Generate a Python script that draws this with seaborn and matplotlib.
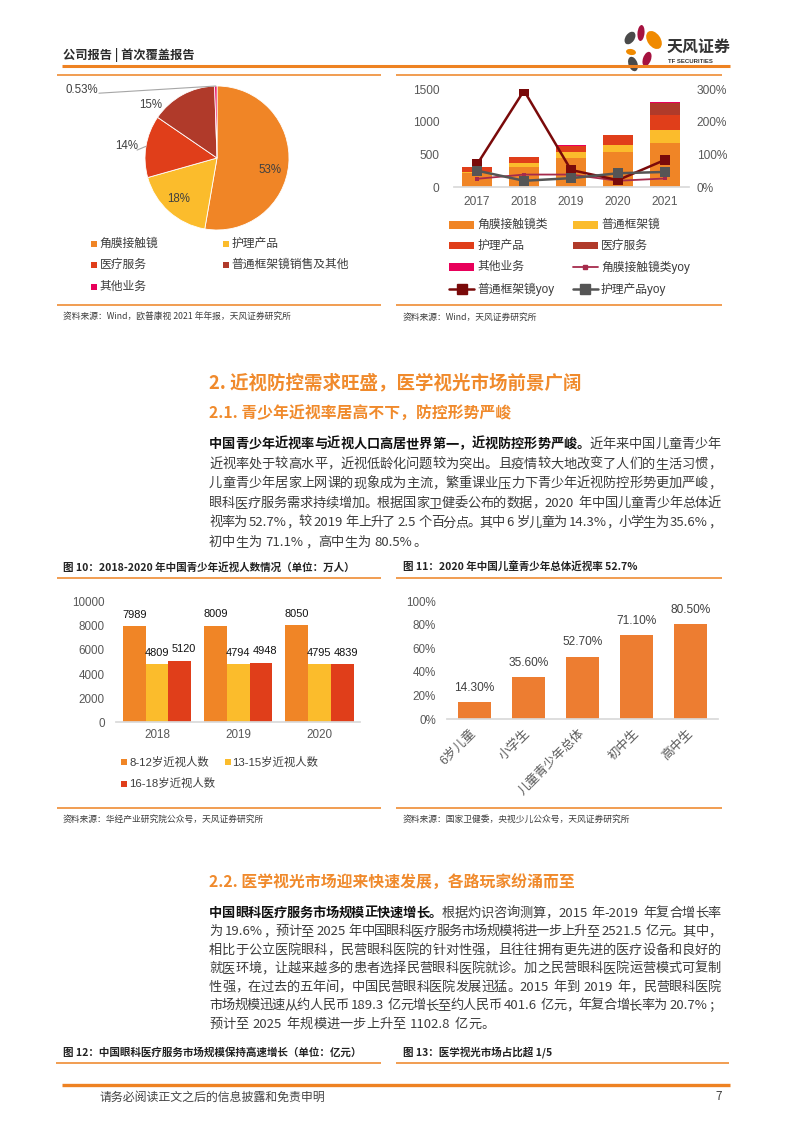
import re
import matplotlib
matplotlib.use('Agg')
import matplotlib.pyplot as plt
import seaborn as sns
import pandas as pd
import numpy as np
from matplotlib.patches import Rectangle, Ellipse
from matplotlib.ticker import FuncFormatter

sns.set_theme(style='white')
plt.rcParams['font.family'] = ['Liberation Sans', 'Noto Sans CJK SC', 'DejaVu Sans']
CJK = ['Noto Sans CJK SC', 'DejaVu Sans']

ORANGE = '#F08526'
YELLOW = '#FBBC2C'
RED = '#E03E1A'
DARKRED = '#B03A2A'
PINK = '#E8005A'
BAR11 = '#ED7D31'
RULE = '#EE8222'
TXT = '#3C3C3C'
TICK = '#595959'

# ---------------- 数据 ----------------
# 左上：收入构成饼图
pie_labels = ['角膜接触镜', '护理产品', '医疗服务', '普通框架镜销售及其他', '其他业务']
pie_values = [53, 18, 14, 15, 0.53]
pie_texts = ['53%', '18%', '14%', '15%', '0.53%']
pie_colors = [ORANGE, YELLOW, RED, DARKRED, PINK]

# 右上：分业务收入（堆叠柱）与增速
rev_years = ['2017', '2018', '2019', '2020', '2021']
rev_contact = [220, 316, 444, 536, 684]
rev_frame = [16, 51, 92, 112, 194]
rev_care = [70, 92, 102, 153, 230]
rev_medical = [0, 0, 0, 0, 184]
rev_other = [2, 2, 3, 3, 6]
rev_names = ['角膜接触镜类', '普通框架镜', '护理产品', '医疗服务', '其他业务']
yoy_contact = [0.26, 0.39, 0.39, 0.20, 0.27]
yoy_frame = [0.70, 2.96, 0.53, 0.22, 0.84]
yoy_care = [0.51, 0.20, 0.28, 0.43, 0.47]

# 图10：青少年近视人数（万人）
myopia_years = ['2018', '2019', '2020']
myopia_groups = ['8-12岁近视人数', '13-15岁近视人数', '16-18岁近视人数']
myopia_8_12 = [7989, 8009, 8050]
myopia_13_15 = [4809, 4794, 4795]
myopia_16_18 = [5120, 4948, 4839]

# 图11：2020年近视率（%）
rate_groups = ['6岁儿童', '小学生', '儿童青少年总体', '初中生', '高中生']
rate_values = [14.3, 35.6, 52.7, 71.1, 80.5]

# ---------------- 页面 ----------------
W, H = 793, 1122
fig = plt.figure(figsize=(W / 100, H / 100), dpi=100, facecolor='white')
page = fig.add_axes([0, 0, 1, 1])
page.set_xlim(0, W)
page.set_ylim(H, 0)
page.axis('off')
renderer = fig.canvas.get_renderer()


def px_axes(left, top, right, bottom):
    ax = fig.add_axes([left / W, 1 - bottom / H, (right - left) / W, (bottom - top) / H])
    ax.patch.set_visible(False)
    return ax


def hline(x0, x1, y, lw=1.1):
    page.plot([x0, x1], [y, y], color=RULE, lw=lw, solid_capstyle='butt')


def ptext(x, y, s, size, bold=False, color=TXT, ha='left'):
    page.text(x, y, s, fontsize=size, family=CJK, fontweight='bold' if bold else 'normal',
              color=color, va='center', ha=ha)


TOKEN = re.compile(r'[0-9A-Za-z.%\-]+| |.')


def para_line(y, parts, x0=209, x1=721, justify=True, size=9.5):
    # 两端对齐：逐字放置，多余空白平均分到字间
    em = size * 100 / 72
    items = [(tok, bold) for text, bold in parts for tok in TOKEN.findall(text)]
    arts, widths = [], []
    for tok, bold in items:
        if tok == ' ':
            arts.append(None)
            widths.append(em * 0.3)
            continue
        t = page.text(0, y + em * 0.38, tok, fontsize=size, family=CJK,
                      fontweight='bold' if bold else 'normal',
                      color='#111111' if bold else TXT, va='baseline', ha='left')
        arts.append(t)
        if ord(tok[0]) > 0x2E80:
            widths.append(em)
        else:
            widths.append(t.get_window_extent(renderer).width + 1)
    gap = (x1 - x0 - sum(widths)) / (len(items) - 1) if justify else 0
    x = x0
    for a, w in zip(arts, widths):
        if a is not None:
            a.set_x(x)
        x += w + gap


def legend_box(x, y, w, h, color, tx, label, size=8.5):
    page.add_patch(Rectangle((x, y - h / 2), w, h, color=color, lw=0))
    page.text(tx, y, label, fontsize=size, color=TXT, va='center', ha='left')


def legend_line(x0, x1, y, color, lw, ms, tx, label, size=8.5):
    page.plot([x0, x1], [y, y], color=color, lw=lw)
    page.plot([(x0 + x1) / 2], [y], marker='s', ms=ms, color=color)
    page.text(tx, y, label, fontsize=size, color=TXT, va='center', ha='left')


# 页眉
ptext(63, 55, '公司报告 | 首次覆盖报告', 8.8, bold=True, color='#2B2B2B')
hline(62, 730, 66, lw=2.2)
for (cx, cy, w, h, ang, col) in [(630, 38, 9, 14, 35, '#4A4A4A'), (641, 33, 7, 16, 5, '#A5123F'),
                                  (654, 40, 13, 20, -35, '#F08A00'), (631, 52, 10, 6, 10, '#F08A00'),
                                  (647, 59, 8, 15, 20, '#A5123F'), (633, 64, 9, 15, -20, '#4A4A4A')]:
    page.add_patch(Ellipse((cx, cy), w, h, angle=ang, color=col, lw=0))
page.text(699, 47, '天风证券', fontsize=11.5, family=CJK, fontweight='bold', color='#333333',
          va='center', ha='center')
page.text(690, 61, 'TF SECURITIES', fontsize=4.3, fontweight='bold', color='#333333',
          va='center', ha='center')

# 顶部两图的框线
hline(57, 381, 75)
hline(396, 722, 75)
hline(57, 381, 305)
hline(396, 722, 305)
ptext(63, 317, '资料来源：Wind，欧普康视 2021 年年报，天风证券研究所', 6.3)
ptext(403, 317, '资料来源：Wind，天风证券研究所', 6.3)

# ---- 饼图 ----
ax_pie = px_axes(145, 86, 289, 230)
wedges, _ = ax_pie.pie(pie_values, colors=pie_colors, startangle=90, counterclock=False,
                       radius=1, wedgeprops=dict(edgecolor='white', linewidth=0.6))
ax_pie.set_xlim(-1, 1)
ax_pie.set_ylim(-1, 1)
ax_pie.set_aspect('equal')
label_pos = [(0.74, -0.17), (-0.54, -0.57), (-1.26, 0.16), (-0.92, 0.74), (-1.88, 0.94)]
for (lx, ly), s in zip(label_pos, pie_texts):
    ax_pie.text(lx, ly, s, fontsize=8.3, color='#404040', ha='center', va='center')
for i, start in [(2, (-1.11, 0.11)), (4, (-1.64, 0.90))]:
    mid = np.deg2rad((wedges[i].theta1 + wedges[i].theta2) / 2)
    ax_pie.plot([start[0], np.cos(mid)], [start[1], np.sin(mid)], color='#A6A6A6', lw=0.8,
                clip_on=False)

pie_leg_x = [(91, 99.5), (222.5, 231.5)]
pie_leg_rows = [244, 264.5, 287]
for i, (lab, col) in enumerate(zip(pie_labels, pie_colors)):
    sx, tx = pie_leg_x[i % 2]
    legend_box(sx, pie_leg_rows[i // 2], 6, 6, col, tx, lab)

# ---- 收入堆叠柱 + 增速 ----
ax_rev = px_axes(453.5, 89.3, 688.5, 187.3)
xpos = np.arange(len(rev_years))
bottom = np.zeros(len(xpos))
rev_series = [rev_contact, rev_frame, rev_care, rev_medical, rev_other]
rev_colors = [ORANGE, YELLOW, RED, DARKRED, PINK]
for vals, col in zip(rev_series, rev_colors):
    ax_rev.bar(xpos, vals, width=0.63, bottom=bottom, color=col, linewidth=0)
    bottom += np.array(vals)
ax_rev.set_xlim(-0.5, len(rev_years) - 0.5)
ax_rev.set_ylim(0, 1500)
ax_rev.set_yticks([0, 500, 1000, 1500])
ax_rev.set_xticks(xpos, rev_years)
ax_rev.tick_params(axis='y', length=0, pad=10, labelsize=8.6, labelcolor=TICK)
ax_rev.tick_params(axis='x', length=0, pad=6, labelsize=8.6, labelcolor=TICK)
for side in ['left', 'right', 'top']:
    ax_rev.spines[side].set_visible(False)
ax_rev.spines['bottom'].set_color('#D9D9D9')

ax_yoy = ax_rev.twinx()
ax_yoy.patch.set_visible(False)
sns.lineplot(x=xpos, y=yoy_contact, ax=ax_yoy, color='#A62B4C', lw=1.3, marker='s', markersize=3,
             markeredgewidth=0)
sns.lineplot(x=xpos, y=yoy_frame, ax=ax_yoy, color='#7A0A0A', lw=1.8, marker='s', markersize=6.5,
             markeredgewidth=0)
sns.lineplot(x=xpos, y=yoy_care, ax=ax_yoy, color='#555555', lw=1.8, marker='s', markersize=6.5,
             markeredgewidth=0)
ax_yoy.set_ylim(0, 3.0)
ax_yoy.set_yticks([0, 1, 2, 3])
ax_yoy.yaxis.set_major_formatter(FuncFormatter(lambda v, p: f'{v * 100:.0f}%'))
ax_yoy.tick_params(axis='y', length=0, pad=6, labelsize=8.6, labelcolor=TICK)
ax_yoy.set_xlabel('')
ax_yoy.set_ylabel('')
for side in ax_yoy.spines:
    ax_yoy.spines[side].set_visible(False)

rl = [(449, 477.5), (572.5, 601)]
rrows = [225, 245.5, 267, 289]
for i, (lab, col) in enumerate(zip(rev_names, rev_colors)):
    sx, tx = rl[i % 2]
    legend_box(sx, rrows[i // 2], 25, 7.5, col, tx, lab)
legend_line(572.5, 597.5, rrows[2], '#A62B4C', 1.3, 3, 601, '角膜接触镜类yoy')
legend_line(449, 474, rrows[3], '#7A0A0A', 1.8, 6.5, 477.5, '普通框架镜yoy')
legend_line(572.5, 597.5, rrows[3], '#555555', 1.8, 6.5, 601, '护理产品yoy')

# ---- 正文 2 / 2.1 ----
ptext(209, 383, '2. 近视防控需求旺盛，医学视光市场前景广阔', 13.3, bold=True, color='#F08A2C')
ptext(209, 414, '2.1. 青少年近视率居高不下，防控形势严峻', 11.4, bold=True, color='#F08A2C')
p1 = [
    [('中国青少年近视率与近视人口高居世界第一，近视防控形势严峻。', True), ('近年来中国儿童青少年', False)],
    [('近视率处于较高水平，近视低龄化问题较为突出。且疫情较大地改变了人们的生活习惯，', False)],
    [('儿童青少年居家上网课的现象成为主流，繁重课业压力下青少年近视防控形势更加严峻，', False)],
    [('眼科医疗服务需求持续增加。根据国家卫健委公布的数据，2020 年中国儿童青少年总体近', False)],
    [('视率为 52.7%，较 2019 年上升了 2.5 个百分点。其中 6 岁儿童为 14.3%，小学生为 35.6%，', False)],
    [('初中生为 71.1%，高中生为 80.5%。', False)],
]
for k, parts in enumerate(p1):
    para_line(443 + 19.6 * k, parts, justify=k < len(p1) - 1)

# ---- 图10 / 图11 框 ----
ptext(63, 567, '图 10：2018-2020 年中国青少年近视人数情况（单位：万人）', 7.6, bold=True, color='#222222')
ptext(403, 567, '图 11：2020 年中国儿童青少年总体近视率 52.7%', 7.6, bold=True, color='#222222')
hline(57, 381, 578)
hline(396, 722, 578)
hline(57, 381, 808)
hline(396, 722, 808)
ptext(63, 819, '资料来源：华经产业研究院公众号，天风证券研究所', 6.3)
ptext(403, 819, '资料来源：国家卫健委，央视少儿公众号，天风证券研究所', 6.3)

# 图10
ax10 = px_axes(116.5, 601.7, 360, 722.3)
df10 = pd.DataFrame({
    'year': myopia_years * 3,
    'group': [g for g in myopia_groups for _ in myopia_years],
    'value': myopia_8_12 + myopia_13_15 + myopia_16_18,
})
my_colors = [ORANGE, YELLOW, RED]
sns.barplot(data=df10, x='year', y='value', hue='group', palette=my_colors, width=0.84, gap=0,
            saturation=1, legend=False, ax=ax10, linewidth=0)
for k, c in enumerate(ax10.containers):
    labs = ax10.bar_label(c, fmt='%d', padding=4.5, fontsize=7.9, color='#111111')
    if k == 2:
        for t in labs:
            t.xyann = (2.6, 4.5)
ax10.set_xlim(-0.5, 2.5)
ax10.set_ylim(0, 10000)
ax10.set_yticks(range(0, 10001, 2000))
ax10.set_xlabel('')
ax10.set_ylabel('')
ax10.tick_params(axis='y', length=0, pad=8.5, labelsize=8.4, labelcolor=TICK)
ax10.tick_params(axis='x', length=0, pad=5, labelsize=8.4, labelcolor=TICK)
for side in ['left', 'right', 'top']:
    ax10.spines[side].set_visible(False)
ax10.spines['bottom'].set_color('#D9D9D9')

legend_box(121, 762, 6, 6, my_colors[0], 129, myopia_groups[0], size=8.2)
legend_box(224.5, 762, 6, 6, my_colors[1], 232, myopia_groups[1], size=8.2)
legend_box(121, 783.5, 6, 6, my_colors[2], 129, myopia_groups[2], size=8.2)

# 图11
ax11 = px_axes(447, 601, 718, 719)
sns.barplot(x=rate_groups, y=rate_values, color=BAR11, width=0.61, saturation=1, ax=ax11,
            linewidth=0)
ax11.bar_label(ax11.containers[0], labels=[f'{v:.2f}%' for v in rate_values], padding=6,
               fontsize=8.6, color='#404040')
ax11.set_xlim(-0.5, len(rate_groups) - 0.5)
ax11.set_ylim(0, 100)
ax11.set_yticks(range(0, 101, 20))
ax11.yaxis.set_major_formatter(FuncFormatter(lambda v, p: f'{v:.0f}%'))
ax11.set_xlabel('')
ax11.set_ylabel('')
ax11.tick_params(axis='y', length=0, pad=8, labelsize=8.4, labelcolor=TICK)
ax11.tick_params(axis='x', length=0, pad=9, labelsize=9, labelcolor=TICK)
plt.setp(ax11.get_xticklabels(), rotation=45, ha='right', va='center', rotation_mode='anchor')
for side in ['left', 'right', 'top']:
    ax11.spines[side].set_visible(False)
ax11.spines['bottom'].set_color('#D9D9D9')

# ---- 正文 2.2 ----
ptext(209, 882, '2.2. 医学视光市场迎来快速发展，各路玩家纷涌而至', 11.4, bold=True, color='#F08A2C')
p2 = [
    [('中国眼科医疗服务市场规模正快速增长。', True), ('根据灼识咨询测算，2015 年-2019 年复合增长率', False)],
    [('为 19.6%，预计至 2025 年中国眼科医疗服务市场规模将进一步上升至 2521.5 亿元。其中，', False)],
    [('相比于公立医院眼科，民营眼科医院的针对性强，且往往拥有更先进的医疗设备和良好的', False)],
    [('就医环境，让越来越多的患者选择民营眼科医院就诊。加之民营眼科医院运营模式可复制', False)],
    [('性强，在过去的五年间，中国民营眼科医院发展迅猛。2015 年到 2019 年，民营眼科医院', False)],
    [('市场规模迅速从约人民币 189.3 亿元增长至约人民币 401.6 亿元，年复合增长率为 20.7%；', False)],
    [('预计至 2025 年规模进一步上升至 1102.8 亿元。', False)],
]
for k, parts in enumerate(p2):
    para_line(911.5 + 18.5 * k, parts, justify=k < len(p2) - 1)

ptext(63, 1052, '图 12：中国眼科医疗服务市场规模保持高速增长（单位：亿元）', 7.6, bold=True, color='#222222')
ptext(403, 1052, '图 13：医学视光市场占比超 1/5', 7.6, bold=True, color='#222222')
hline(56, 381, 1063)
hline(396, 729, 1063)

# 页脚
hline(62, 730, 1085, lw=2.4)
ptext(100, 1097, '请务必阅读正文之后的信息披露和免责申明', 8.6, color='#444444')
ptext(722, 1097, '7', 8.6, color='#444444', ha='right')

fig.savefig('out.png', dpi=100, facecolor='white')
